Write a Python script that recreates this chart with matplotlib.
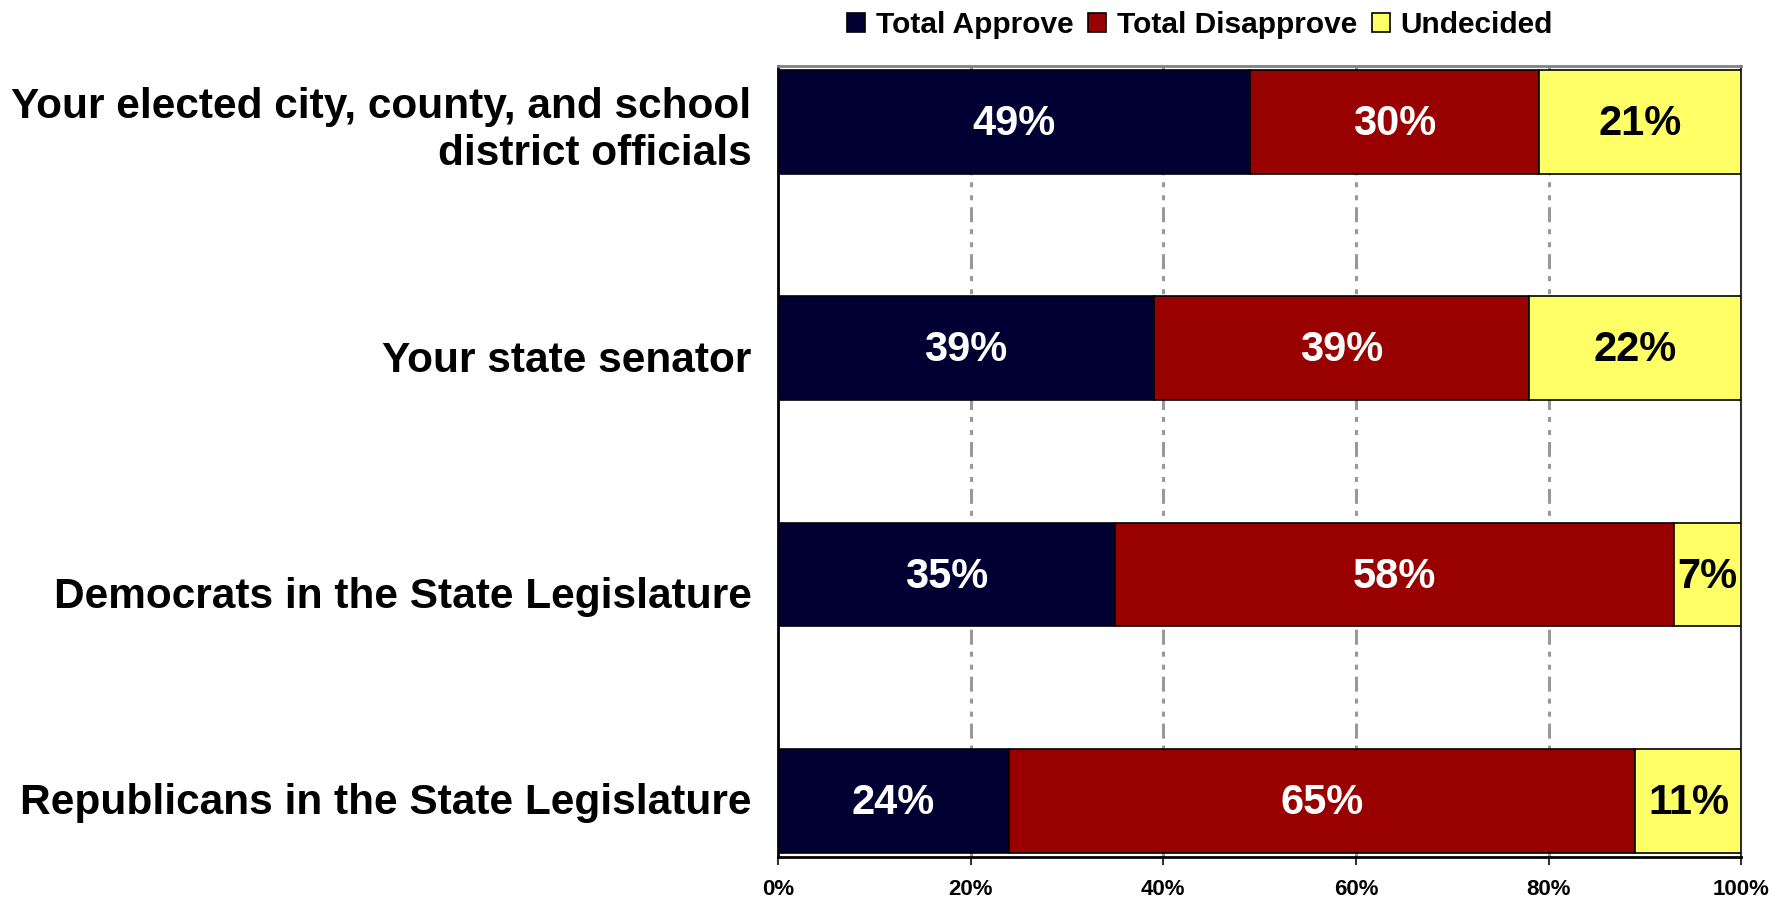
import numpy as np
import matplotlib
matplotlib.use("Agg")
import matplotlib.pyplot as plt
from matplotlib.patches import Patch
from matplotlib.transforms import ScaledTranslation

plt.rcParams['font.family'] = ['Liberation Sans', 'DejaVu Sans']
plt.rcParams['font.weight'] = 'bold'
plt.rcParams['lines.scale_dashes'] = False

categories = [
    "Your elected city, county, and school\ndistrict officials",
    "Your state senator",
    "Democrats in the State Legislature",
    "Republicans in the State Legislature",
]
approve = [49, 39, 35, 24]
disapprove = [30, 39, 58, 65]
undecided = [21, 22, 7, 11]

series_names = ["Total Approve", "Total Disapprove", "Undecided"]
colors = ["#000033", "#990000", "#FFFF66"]
text_colors = ["white", "white", "black"]
x_ticks = [0, 20, 40, 60, 80, 100]

fig = plt.figure(figsize=(17.73, 9.01), dpi=100)
ax = fig.add_axes([0.4388, 0.0488, 0.5434, 0.8779])

y = np.arange(len(categories))
bar_h = 0.4576
left = np.zeros(len(categories))
for vals, col, tcol in zip([approve, disapprove, undecided], colors, text_colors):
    vals = np.array(vals, dtype=float)
    ax.barh(y, vals, left=left, height=bar_h, color=col,
            edgecolor="black", linewidth=1.2, zorder=3)
    for yi, l, v in zip(y, left, vals):
        ax.text(l + v / 2, yi + 0.01, f"{v:.0f}%", ha="center", va="center",
                color=tcol, fontsize=30, fontweight="bold", zorder=4)
    left += vals

ax.set_xlim(0, 100)
ax.set_ylim(3 + bar_h / 2 + 0.019, -bar_h / 2 - 0.0177)

ax.set_xticks(x_ticks)
ax.set_xticklabels([f"{t}%" for t in x_ticks], fontsize=16, fontweight="bold")
ax.tick_params(axis="x", direction="out", length=6, width=1.5, color="#333333", pad=10)

ax.set_yticks(y)
ax.set_yticklabels(categories, fontsize=30.5, fontweight="bold", linespacing=1.2)
ax.tick_params(axis="y", length=0, pad=19)

# Excel drops some category labels a little below the bar centre
label_drop = [0.7, 5.7, 13.0, -1.4]
for lbl, dy in zip(ax.get_yticklabels(), label_drop):
    lbl.set_transform(lbl.get_transform() + ScaledTranslation(0, -dy / 72, fig.dpi_scale_trans))

for gx in x_ticks[1:-1]:
    ax.axvline(gx, color="#999999", linewidth=2.2,
               dashes=(3.6, 5.8, 3.6, 5.0, 10.8, 5.0), zorder=1)

ax.spines["left"].set_color("black")
ax.spines["left"].set_linewidth(2)
ax.spines["bottom"].set_color("black")
ax.spines["bottom"].set_linewidth(2)
ax.spines["top"].set_color("#808080")
ax.spines["top"].set_linewidth(2)
ax.spines["right"].set_color("#333333")
ax.spines["right"].set_linewidth(1.5)

handles = [Patch(facecolor=c, edgecolor="black", linewidth=1.2) for c in colors]
fig.legend(handles, series_names, loc="center", bbox_to_anchor=(1200 / 1773, 1 - 25 / 901),
           ncol=3, frameon=False, prop={"size": 21.5, "weight": "bold"},
           handlelength=0.6, handleheight=0.6, handletextpad=0.36,
           columnspacing=0.5, borderaxespad=0)

fig.savefig("out.png", dpi=100)
